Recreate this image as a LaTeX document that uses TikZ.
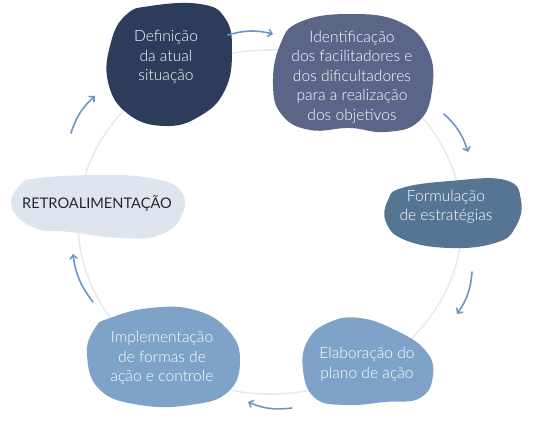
\documentclass[tikz,border=0pt]{standalone}
\usepackage{fontspec}
\IfFontExistsTF{Lato Light}{\setmainfont{Lato Light}}{\setmainfont{Lato}}
\newfontfamily\regfont{Lato}
\usetikzlibrary{arrows.meta}

\definecolor{navy}{HTML}{2E3C5C}
\definecolor{slate}{HTML}{5B6587}
\definecolor{steel}{HTML}{567592}
\definecolor{sky}{HTML}{7FA3C8}
\definecolor{mist}{HTML}{DFE5EF}
\definecolor{arrowblue}{HTML}{6E96C3}
\definecolor{ringgray}{HTML}{E6EBF2}

\begin{document}
\begin{tikzpicture}[
        x=1pt, y=-1pt,
        % --- Blob and text styles ---
        blob/.style={smooth cycle, tension=0.75},
        blobtext/.style={
            align=center, text=white, inner sep=0pt,
            font=\fontsize{15.6}{19.5}\selectfont
        },
        % --- Connector styles ---
        cycarrow/.style={
            draw=arrowblue, line width=1.6pt, line cap=round,
            -{Straight Barb[length=3.5pt, width=7pt, line cap=round]}
        },
        ring/.style={draw=ringgray, line width=1.6pt},
    ]

    \useasboundingbox (0,0) rectangle (536,421);

    % ===== Background ring =====
    \draw[ring] (270,222) ellipse [x radius=192pt, y radius=172pt];

    % ===== Blobs =====
    % Definicao (top)
    \fill[navy] plot[blob] coordinates {(150,6) (200,4) (225,18) (232,50) (225,90)
        (200,116) (165,126) (128,114) (108,82) (111,42) (126,15)};
    % Identificacao (top right)
    \fill[slate] plot[blob] coordinates {(300,22) (350,14) (400,22) (428,50) (432,90)
        (418,122) (385,132) (350,128) (310,130) (282,115) (273,85) (280,45)};
    % Formulacao (right)
    \fill[steel] plot[blob] coordinates {(402,188) (450,181) (505,180) (521,200) (515,228)
        (495,243) (450,248) (405,240) (386,222) (388,200)};
    % Elaboracao (bottom right)
    \fill[sky] plot[blob] coordinates {(330,322) (360,318) (395,330) (425,350) (433,375)
        (420,398) (385,402) (345,405) (315,398) (303,370) (308,340)};
    % Implementacao (bottom left)
    \fill[sky] plot[blob] coordinates {(110,318) (150,308) (195,310) (228,330) (240,360)
        (228,392) (190,405) (140,405) (100,390) (87,355) (95,328)};
    % Retroalimentacao (left)
    \fill[mist] plot[blob] coordinates {(40,178) (100,175) (150,178) (180,190) (182,215)
        (160,235) (120,238) (70,232) (35,228) (12,208) (20,185)};

    % ===== Texts =====
    \node[blobtext] (definicao) at (166,57) {Definição\\da atual\\situação};
    \node[blobtext] (identificacao) at (352,77) {Identificação\\dos facilitadores e\\dos dificultadores\\para a realização\\dos objetivos};
    \node[blobtext] (formulacao) at (446,207) {Formulação\\de estratégias};
    \node[blobtext] (elaboracao) at (367,364) {Elaboração do\\plano de ação};
    \node[blobtext] (implementacao) at (162,358) {Implementação\\de formas de\\ação e controle};
    \node[blobtext, text=black!85, font=\regfont\fontsize{14.6}{19.5}\selectfont] (retro) at (97,203) {RETROALIMENTAÇÃO};

    % ===== Arrows =====
    \coordinate (a1s) at (228,35);  \coordinate (a1e) at (273,34);
    \coordinate (a2s) at (444,114); \coordinate (a2e) at (468,152);
    \coordinate (a3s) at (472,272); \coordinate (a3e) at (457,314);
    \coordinate (a4s) at (292,408); \coordinate (a4e) at (248,402);
    \coordinate (a5s) at (93,302);  \coordinate (a5e) at (73,254);
    \coordinate (a6s) at (71,133);  \coordinate (a6e) at (95,96);

    \draw[cycarrow] (a1s) to[bend left=15] (a1e);
    \draw[cycarrow] (a2s) to[bend left=15] (a2e);
    \draw[cycarrow] (a3s) to[bend left=15] (a3e);
    \draw[cycarrow] (a4s) to[bend left=15] (a4e);
    \draw[cycarrow] (a5s) to[bend left=15] (a5e);
    \draw[cycarrow] (a6s) to[bend left=15] (a6e);

\end{tikzpicture}
\end{document}
